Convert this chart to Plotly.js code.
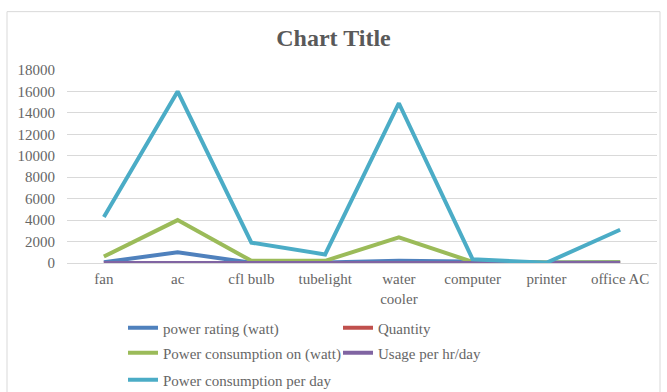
<!DOCTYPE html>
<html>
<head>
<meta charset="utf-8">
<script src="https://cdn.plot.ly/plotly-3.0.1.min.js"></script>
<style>
  html, body { margin: 0; padding: 0; background: #fff; }
  #chart { width: 667px; height: 392px; }
</style>
</head>
<body>
<div id="chart"></div>
<script>
const categories = ["fan", "ac", "cfl bulb", "tubelight", "water<br>cooler", "computer", "printer", "office AC"];
const powerRating = [75, 1000, 20, 40, 200, 100, 50, 60];
const quantity = [6, 4, 10, 5, 1, 2, 1, 2];
const powerConsumptionOn = [600, 4000, 200, 200, 2400, 100, 50, 60];
const usagePerHrDay = [8, 4, 10, 4, 6, 3, 1, 8];
const powerConsumptionPerDay = [4300, 16000, 1900, 800, 14900, 350, 20, 3100];
const yTicks = [0, 2000, 4000, 6000, 8000, 10000, 12000, 14000, 16000, 18000];

const seriesNames = ["power rating (watt)", "Quantity", "Power consumption on (watt)", "Usage per hr/day", "Power consumption per day"];
const seriesData = [powerRating, quantity, powerConsumptionOn, usagePerHrDay, powerConsumptionPerDay];
const seriesColors = ["#4F81BD", "#C0504D", "#9BBB59", "#8064A2", "#4BACC6"];
const seriesLegend = ["legend", "legend", "legend2", "legend2", "legend3"];

const traces = seriesNames.map((name, i) => ({
  type: "scatter",
  mode: "lines",
  name: name,
  x: categories,
  y: seriesData[i],
  line: { color: seriesColors[i], width: 4 },
  legend: seriesLegend[i],
  hoverinfo: "x+y+name"
}));

const W = 667, H = 392;
const fontFam = "Liberation Serif, Times New Roman, serif";
const textColor = "#666666";
const legendBase = {
  orientation: "h",
  xref: "container",
  yref: "container",
  xanchor: "left",
  yanchor: "middle",
  x: 123 / W,
  entrywidth: 170,
  entrywidthmode: "pixels",
  bgcolor: "rgba(0,0,0,0)",
  borderwidth: 0,
  font: { family: fontFam, size: 15, color: textColor },
  itemclick: false,
  itemdoubleclick: false
};

const plotTop = 69.5, plotBottom = 263, plotLeft = 67, plotRight = 657;
const ph = plotBottom - plotTop, pw = plotRight - plotLeft;
function py(pix) { return (plotBottom - pix) / ph; }
function px(pix) { return (pix - plotLeft) / pw; }

const layout = {
  width: W,
  height: H,
  margin: { l: plotLeft, r: W - plotRight, t: plotTop, b: H - plotBottom, pad: 0 },
  paper_bgcolor: "#ffffff",
  plot_bgcolor: "#ffffff",
  title: {
    text: "<b>Chart Title</b>",
    font: { family: fontFam, size: 24, color: "#595959" },
    x: 0.5,
    xanchor: "center",
    y: 1 - 38 / H,
    yanchor: "middle"
  },
  xaxis: {
    type: "category",
    range: [-0.5, 7.5],
    showgrid: false,
    showline: false,
    zeroline: false,
    ticks: "",
    ticklabelstandoff: 5,
    tickfont: { family: fontFam, size: 15, color: textColor },
    fixedrange: true
  },
  yaxis: {
    range: [0, 18000],
    tickvals: yTicks,
    ticktext: yTicks.map(String),
    showgrid: true,
    gridcolor: "#d9d9d9",
    gridwidth: 1,
    zeroline: true,
    zerolinecolor: "#d9d9d9",
    zerolinewidth: 1,
    showline: false,
    ticks: "",
    ticklabelstandoff: 11,
    tickfont: { family: fontFam, size: 15, color: textColor },
    fixedrange: true
  },
  showlegend: true,
  legend: Object.assign({}, legendBase, { y: 1 - 328 / H }),
  legend2: Object.assign({}, legendBase, { y: 1 - 353 / H }),
  legend3: Object.assign({}, legendBase, { y: 1 - 380 / H }),
  shapes: [{
    type: "rect",
    xref: "paper", yref: "paper",
    x0: px(7), x1: px(660), y0: py(396), y1: py(11),
    line: { color: "#d9d9d9", width: 1 },
    fillcolor: "rgba(0,0,0,0)",
    layer: "below"
  }]
};

Plotly.newPlot("chart", traces, layout, { displayModeBar: false });
</script>
</body>
</html>
